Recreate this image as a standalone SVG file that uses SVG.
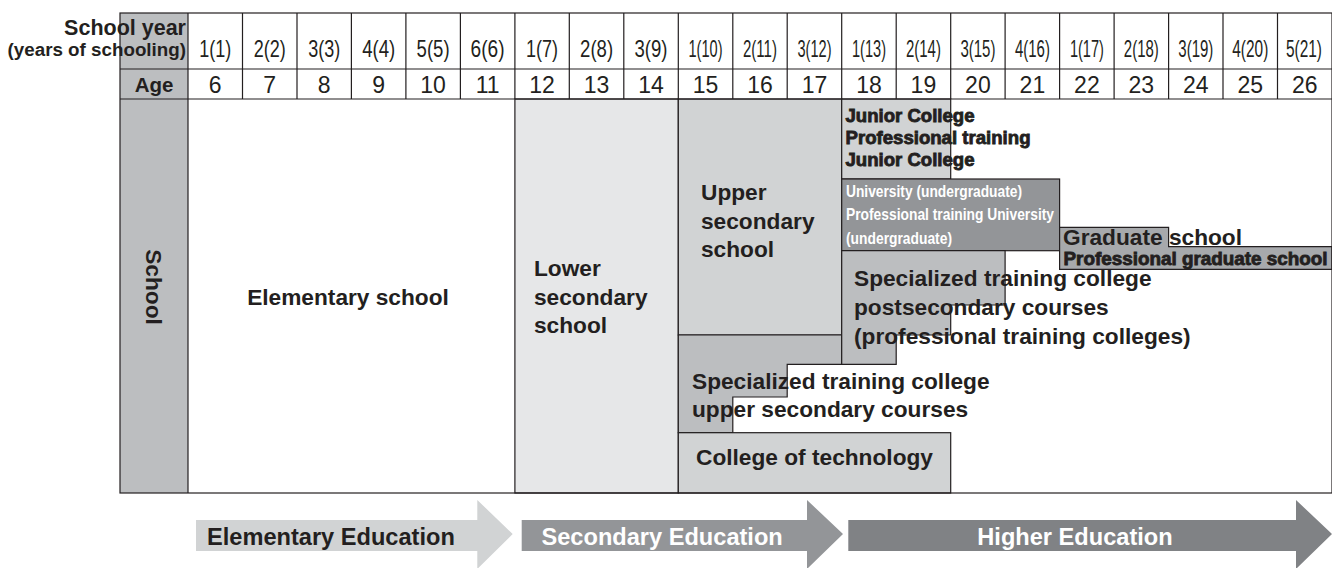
<svg xmlns="http://www.w3.org/2000/svg" width="1332" height="568" viewBox="0 0 1332 568">
<style>
.ln{stroke:#231f20;stroke-width:1.2;fill:none}
.bx{stroke:#231f20;stroke-width:1.2}
.b{font-family:"Liberation Sans",Arial,sans-serif;font-weight:bold;fill:#231f20}
.big{font-size:22.7px}
.hv{font-family:"Liberation Sans",Arial,sans-serif;font-weight:bold;fill:#231f20;stroke:#231f20;stroke-width:0.8;font-size:17.5px}
.uni{font-family:"Liberation Sans",Arial,sans-serif;font-weight:bold;fill:#ffffff;font-size:16.5px}
.num{font-family:"Liberation Sans",Arial,sans-serif;fill:#231f20;font-size:24px;text-anchor:middle}
.age{font-family:"Liberation Sans",Arial,sans-serif;fill:#231f20;font-size:23px;text-anchor:middle}
.arr{font-family:"Liberation Sans",Arial,sans-serif;font-weight:bold;font-size:23.6px}
</style>

<!-- background -->
<rect width="1332" height="568" fill="#ffffff"/>

<!-- header label column -->
<g id="label-column">
<rect x="120" y="13" width="68" height="480" fill="#bcbec0"/>
</g>

<!-- school blocks -->
<g id="elementary-school">
<rect x="188" y="99" width="326.9" height="394" fill="#ffffff"/>
<text class="b big" x="348" y="305" text-anchor="middle">Elementary school</text>
</g>
<g id="lower-secondary-school">
<rect class="bx" x="514.9" y="99" width="163.4" height="394" fill="#e6e7e8"/>
<text class="b big" x="534" y="276">Lower</text>
<text class="b big" x="534" y="304.5">secondary</text>
<text class="b big" x="534" y="333">school</text>
</g>
<g id="upper-secondary-school">
<rect class="bx" x="678.3" y="99" width="163.4" height="236" fill="#d1d3d4"/>
<text class="b big" x="701" y="200">Upper</text>
<text class="b big" x="701" y="228.5">secondary</text>
<text class="b big" x="701" y="257">school</text>
</g>
<g id="specialized-upper-secondary">
<path class="bx" d="M678.3,335 H841.7 V364.3 H787.2 V397 H732.8 V432.7 H678.3 Z" fill="#bcbec0"/>
</g>
<g id="college-of-technology">
<rect class="bx" x="678.3" y="432.7" width="272.4" height="60.3" fill="#d1d3d4"/>
<text class="b big" x="696" y="465">College of technology</text>
</g>
<g id="junior-college">
<rect class="bx" x="841.7" y="99" width="109" height="80" fill="#d1d3d4"/>
</g>
<g id="university">
<rect class="bx" x="841.7" y="179" width="217.9" height="71.7" fill="#939598"/>
<text class="uni" x="846" y="197" textLength="176" lengthAdjust="spacingAndGlyphs">University (undergraduate)</text>
<text class="uni" x="846" y="220.3" textLength="208" lengthAdjust="spacingAndGlyphs">Professional training University</text>
<text class="uni" x="846" y="243.6" textLength="106" lengthAdjust="spacingAndGlyphs">(undergraduate)</text>
</g>
<g id="specialized-postsecondary">
<path class="bx" d="M841.7,250.7 H1005.1 V305 H950.7 V335 H896.2 V364.3 H841.7 Z" fill="#bcbec0"/>
</g>
<g id="graduate-school">
<path class="bx" d="M1059.6,227.3 H1168.6 V246.7 H1332 V269.3 H1059.6 Z" fill="#a7a9ac"/>
<text class="b big" x="1063" y="245">Graduate school</text>
<text class="hv" x="1063.5" y="264.5" textLength="264" lengthAdjust="spacingAndGlyphs">Professional graduate school</text>
</g>

<!-- texts overlapping blocks -->
<g id="junior-college-text">
<text class="hv" x="845.5" y="122" textLength="129" lengthAdjust="spacingAndGlyphs">Junior College</text>
<text class="hv" x="845.5" y="144" textLength="185" lengthAdjust="spacingAndGlyphs">Professional training</text>
<text class="hv" x="845.5" y="165.5" textLength="129" lengthAdjust="spacingAndGlyphs">Junior College</text>
</g>
<g id="specialized-postsecondary-text">
<text class="b big" x="854" y="285.5">Specialized training college</text>
<text class="b big" x="854" y="314.5">postsecondary courses</text>
<text class="b big" x="854" y="343.5">(professional training colleges)</text>
</g>
<g id="specialized-upper-secondary-text">
<text class="b big" x="692" y="388.5">Specialized training college</text>
<text class="b big" x="692" y="417">upper secondary courses</text>
</g>

<!-- table grid -->
<g id="grid">
<rect class="ln" x="120" y="13" width="1212" height="480"/>
<line class="ln" x1="120" y1="69" x2="1332" y2="69"/>
<line class="ln" x1="120" y1="99" x2="1332" y2="99"/>
<line class="ln" x1="188" y1="13" x2="188" y2="493"/>
<path class="ln" d="M242.5,13V99 M297,13V99 M351.4,13V99 M405.9,13V99 M460.4,13V99 M514.9,13V99 M569.3,13V99 M623.8,13V99 M678.3,13V99 M732.8,13V99 M787.2,13V99 M841.7,13V99 M896.2,13V99 M950.7,13V99 M1005.1,13V99 M1059.6,13V99 M1114.1,13V99 M1168.6,13V99 M1223,13V99 M1277.5,13V99"/>
</g>

<!-- header labels -->
<g id="header-labels">
<text class="b" x="186" y="35" text-anchor="end" font-size="21.5">School year</text>
<text class="b" x="186" y="55.5" text-anchor="end" font-size="18.8">(years of schooling)</text>
<text class="b" x="154" y="92" text-anchor="middle" font-size="20.5">Age</text>
<text class="b big" transform="translate(154,287) rotate(90)" text-anchor="middle" dominant-baseline="central">School</text>
</g>

<g id="school-years">
<text class="num" x="215.2" y="57" textLength="32" lengthAdjust="spacingAndGlyphs">1(1)</text>
<text class="num" x="269.7" y="57" textLength="32" lengthAdjust="spacingAndGlyphs">2(2)</text>
<text class="num" x="324.2" y="57" textLength="32" lengthAdjust="spacingAndGlyphs">3(3)</text>
<text class="num" x="378.7" y="57" textLength="33" lengthAdjust="spacingAndGlyphs">4(4)</text>
<text class="num" x="433.1" y="57" textLength="33" lengthAdjust="spacingAndGlyphs">5(5)</text>
<text class="num" x="487.6" y="57" textLength="34" lengthAdjust="spacingAndGlyphs">6(6)</text>
<text class="num" x="542.1" y="57" textLength="32" lengthAdjust="spacingAndGlyphs">1(7)</text>
<text class="num" x="596.6" y="57" textLength="33" lengthAdjust="spacingAndGlyphs">2(8)</text>
<text class="num" x="651" y="57" textLength="33" lengthAdjust="spacingAndGlyphs">3(9)</text>
<text class="num" x="705.5" y="57" textLength="34" lengthAdjust="spacingAndGlyphs">1(10)</text>
<text class="num" x="760" y="57" textLength="34" lengthAdjust="spacingAndGlyphs">2(11)</text>
<text class="num" x="814.5" y="57" textLength="34" lengthAdjust="spacingAndGlyphs">3(12)</text>
<text class="num" x="869" y="57" textLength="34" lengthAdjust="spacingAndGlyphs">1(13)</text>
<text class="num" x="923.4" y="57" textLength="35" lengthAdjust="spacingAndGlyphs">2(14)</text>
<text class="num" x="977.9" y="57" textLength="35" lengthAdjust="spacingAndGlyphs">3(15)</text>
<text class="num" x="1032.4" y="57" textLength="35" lengthAdjust="spacingAndGlyphs">4(16)</text>
<text class="num" x="1086.9" y="57" textLength="34" lengthAdjust="spacingAndGlyphs">1(17)</text>
<text class="num" x="1141.3" y="57" textLength="35" lengthAdjust="spacingAndGlyphs">2(18)</text>
<text class="num" x="1195.8" y="57" textLength="35" lengthAdjust="spacingAndGlyphs">3(19)</text>
<text class="num" x="1250.3" y="57" textLength="36" lengthAdjust="spacingAndGlyphs">4(20)</text>
<text class="num" x="1304" y="57" textLength="36" lengthAdjust="spacingAndGlyphs">5(21)</text>
</g>

<g id="ages">
<text class="age" x="215.2" y="93">6</text>
<text class="age" x="269.7" y="93">7</text>
<text class="age" x="324.2" y="93">8</text>
<text class="age" x="378.7" y="93">9</text>
<text class="age" x="433.1" y="93">10</text>
<text class="age" x="487.6" y="93">11</text>
<text class="age" x="542.1" y="93">12</text>
<text class="age" x="596.6" y="93">13</text>
<text class="age" x="651" y="93">14</text>
<text class="age" x="705.5" y="93">15</text>
<text class="age" x="760" y="93">16</text>
<text class="age" x="814.5" y="93">17</text>
<text class="age" x="869" y="93">18</text>
<text class="age" x="923.4" y="93">19</text>
<text class="age" x="977.9" y="93">20</text>
<text class="age" x="1032.4" y="93">21</text>
<text class="age" x="1086.9" y="93">22</text>
<text class="age" x="1141.3" y="93">23</text>
<text class="age" x="1195.8" y="93">24</text>
<text class="age" x="1250.3" y="93">25</text>
<text class="age" x="1304.8" y="93">26</text>
</g>

<!-- stage arrows -->
<g id="elementary-education">
<polygon points="196,520 477.3,520 477.3,500 512.7,534 477.3,569 477.3,551 196,551" fill="#d1d3d4"/>
<text class="arr" x="207" y="545" fill="#231f20">Elementary Education</text>
</g>
<g id="secondary-education">
<polygon points="521.7,520 807,520 807,500 843,534 807,569 807,551 521.7,551" fill="#939598"/>
<text class="arr" x="541.5" y="545" fill="#ffffff">Secondary Education</text>
</g>
<g id="higher-education">
<polygon points="848.3,520 1296,520 1296,500 1332,534 1296,569 1296,551 848.3,551" fill="#808285"/>
<text class="arr" x="1075" y="545" fill="#ffffff" text-anchor="middle">Higher Education</text>
</g>
</svg>
